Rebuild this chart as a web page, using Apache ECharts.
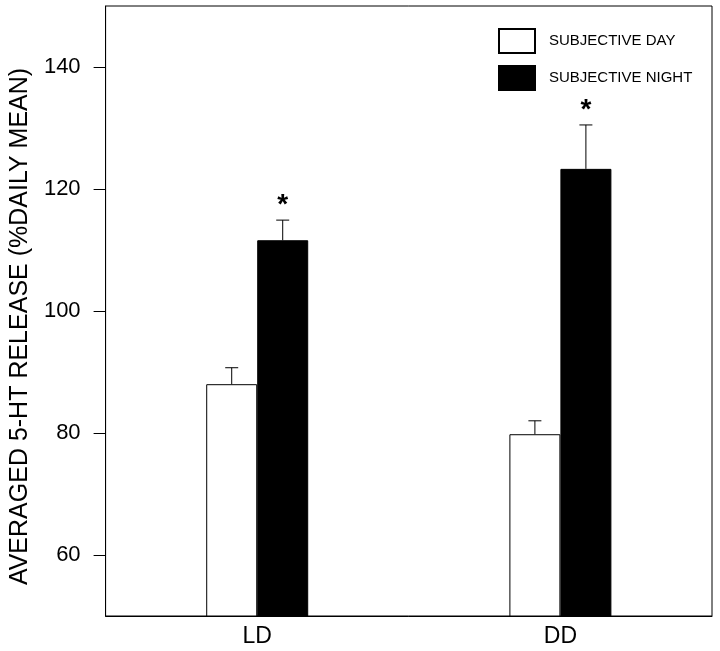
<!DOCTYPE html>
<html>
<head>
<meta charset="utf-8">
<script src="https://cdn.jsdelivr.net/npm/echarts@6/dist/echarts.min.js"></script>
<style>html,body{margin:0;padding:0;background:#fff}#c{width:720px;height:651px}</style>
</head>
<body>
<div id="c"></div>
<script>
var categories = ['LD', 'DD'];
var dayMeans = [88.0, 79.8];
var dayErrors = [2.7, 2.2];
var nightMeans = [111.6, 123.3];
var nightErrors = [3.3, 7.2];
var nightSignificant = [true, true];
var yTicks = [60, 80, 100, 120, 140];

var FONT = 'Liberation Sans';
var BAR_W = 51;

function errData(means, errs, sig) {
  return means.map(function (m, i) {
    return [i, m + errs[i], m, sig && sig[i] ? 1 : 0];
  });
}

function makeErrRender(offset) {
  return function (params, api) {
    var cat = api.value(0);
    var top = api.coord([cat, api.value(1)]);
    var base = api.coord([cat, api.value(2)]);
    var x = top[0] + offset;
    var children = [
      { type: 'line', shape: { x1: x, y1: base[1], x2: x, y2: top[1] }, style: { stroke: '#000', lineWidth: 1 } },
      { type: 'line', shape: { x1: x - 6.5, y1: top[1], x2: x + 6.5, y2: top[1] }, style: { stroke: '#000', lineWidth: 1 } }
    ];
    if (api.value(3)) {
      children.push({
        type: 'text',
        style: { text: '*', x: x, y: top[1] - 1, align: 'center', verticalAlign: 'bottom',
                 font: 'bold 28px "' + FONT + '"', fill: '#000' }
      });
    }
    return { type: 'group', children: children };
  };
}

var chart = echarts.init(document.getElementById('c'), null, { renderer: 'canvas' });
chart.setOption({
  animation: false,
  backgroundColor: '#fff',
  grid: { left: 103, right: 8, top: 6, bottom: 35, show: true, borderColor: '#000', borderWidth: 1, containLabel: false },
  legend: {
    orient: 'vertical', left: 493, top: 23, itemWidth: 36, itemHeight: 24, itemGap: 11,
    data: ['SUBJECTIVE DAY', 'SUBJECTIVE NIGHT'],
    textStyle: { fontFamily: FONT, fontSize: 15, color: '#000', padding: [0, 0, 0, 9] },
    icon: 'rect'
  },
  xAxis: {
    type: 'category', data: categories,
    axisLine: { lineStyle: { color: '#000', width: 1 } },
    axisTick: { show: false },
    axisLabel: { fontFamily: FONT, fontSize: 23, color: '#000', margin: 9 }
  },
  yAxis: {
    type: 'value', min: 50, max: 150,
    name: 'AVERAGED 5-HT RELEASE (%DAILY MEAN)', nameLocation: 'middle', nameGap: 71,
    nameTextStyle: { fontFamily: FONT, fontSize: 25, color: '#000', padding: [0, 31, 0, 0] },
    axisLine: { show: true, lineStyle: { color: '#000', width: 1 } },
    axisTick: { show: true, length: 12, lineStyle: { color: '#000' }, customValues: yTicks },
    axisLabel: { fontFamily: FONT, fontSize: 22, color: '#000', margin: 25, customValues: yTicks },
    splitLine: { show: false }
  },
  series: [
    { name: 'SUBJECTIVE DAY', type: 'bar', data: dayMeans, barWidth: BAR_W, barGap: '0%',
      itemStyle: { color: '#fff', borderColor: '#000', borderWidth: 1 }, z: 2 },
    { name: 'SUBJECTIVE NIGHT', type: 'bar', data: nightMeans, barWidth: BAR_W, barGap: '0%',
      itemStyle: { color: '#000', borderColor: '#000', borderWidth: 1 }, z: 2 },
    { name: 'dayErr', type: 'custom', data: errData(dayMeans, dayErrors, null),
      renderItem: makeErrRender(-BAR_W / 2), z: 3, silent: true },
    { name: 'nightErr', type: 'custom', data: errData(nightMeans, nightErrors, nightSignificant),
      renderItem: makeErrRender(BAR_W / 2), z: 3, silent: true }
  ]
});
</script>
</body>
</html>
